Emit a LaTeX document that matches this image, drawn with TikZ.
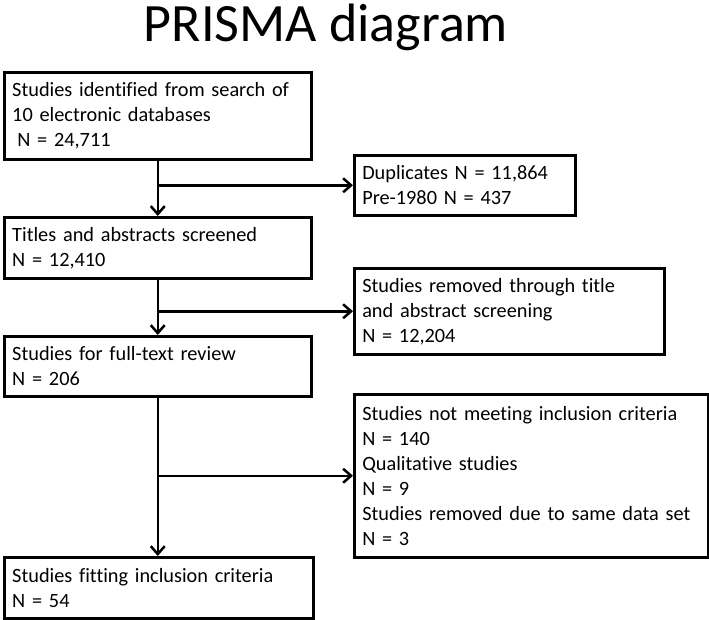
\documentclass[tikz,border=0pt]{standalone}
\usepackage{fontspec}
\setmainfont{Carlito}[Ligatures={NoCommon,NoContextual}]
\usetikzlibrary{arrows.meta}

\begin{document}
\begin{tikzpicture}[x=1pt,y=-1pt,>={Straight Barb[length=8pt,width=14pt]},
  stage/.style={draw,line width=2.5pt,anchor=north west,align=left,inner xsep=8pt,inner ysep=0pt,font=\fontsize{20.3}{25}\selectfont},
  flow/.style={->,line width=2.5pt}]
	\useasboundingbox (0,0) rectangle (709,619);
	% title
	\node[anchor=base,font=\fontsize{54}{58}\selectfont] (title) at (326,41) {PRISMA diagram};
	% left column
	\node[stage,text width=291pt,minimum height=87pt] (ident) at (3,71) {Studies identified from search of\\10 electronic databases\\\hspace{0.25em}N = 24,711};
	\node[stage,text width=291pt,minimum height=61pt] (screen) at (3,216) {Titles and abstracts screened\\N = 12,410};
	\node[stage,text width=291pt,minimum height=60pt] (full) at (3,335) {Studies for full-text review\\N = 206};
	\node[stage,text width=293pt,minimum height=61pt] (incl) at (3,556) {Studies fitting inclusion criteria\\N = 54};
	% right column
	\node[stage,text width=205pt,minimum height=60pt] (dup) at (353,154) {Duplicates N = 11,864\\Pre-1980 N = 437};
	\node[stage,text width=294pt,minimum height=86pt] (removed) at (353,267) {Studies removed through title\\and abstract screening\\N = 12,204};
	\node[stage,text width=338pt,minimum height=163pt] (excl) at (353,393) {Studies not meeting inclusion criteria\\N = 140\\Qualitative studies\\N = 9\\Studies removed due to same data set\\N = 3};
	% arrows
	\draw[flow] (ident) -- (screen);
	\draw[flow] (ident.south |- dup.west) -- (dup.west);
	\draw[flow] (screen) -- (full);
	\draw[flow] (screen.south |- removed.west) -- (removed.west);
	\draw[flow] (full.south) -- (full.south |- incl.north);
	\draw[flow] (full.south |- excl.west) -- (excl.west);
\end{tikzpicture}
\end{document}
